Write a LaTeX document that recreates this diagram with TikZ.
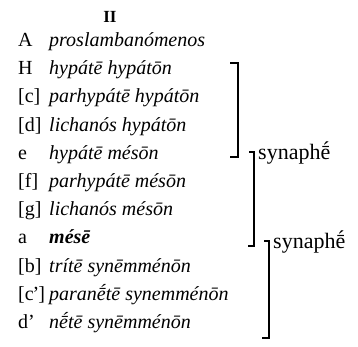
\documentclass[tikz,border=0pt]{standalone}
\usepackage{fontspec}
\setmainfont{Liberation Serif}
\begin{document}
\begin{tikzpicture}[x=1pt,y=-1pt,
  lab/.style={anchor=base west, inner sep=0pt, font=\fontsize{20}{20}\selectfont},
  nm/.style={anchor=base west, inner sep=0pt, font=\fontsize{20}{20}\selectfont\itshape},
  brk/.style={line width=2.4pt, line cap=butt, line join=miter},
  syn/.style={anchor=base west, inner sep=0pt, font=\fontsize{22}{22}\selectfont}]
\useasboundingbox (0,0) rectangle (358,346);
\node[anchor=base, inner sep=0pt, font=\fontsize{17}{17}\selectfont\bfseries] (hd) at (110,22) {II};
\node[lab] (l1) at (18,46.5) {A};      \node[nm] (n1) at (49,46.5) {proslambanómenos};
\node[lab] (l2) at (18,74.7) {H};      \node[nm] (n2) at (49,74.7) {hypátē hypátōn};
\node[lab] (l3) at (18,102.9) {[c]};   \node[nm] (n3) at (49,102.9) {parhypátē hypátōn};
\node[lab] (l4) at (18,131.1) {[d]};   \node[nm] (n4) at (49,131.1) {lichanós hypátōn};
\node[lab] (l5) at (18,159.3) {e};     \node[nm] (n5) at (49,159.3) {hypátē mésōn};
\node[lab] (l6) at (18,187.5) {[f]};   \node[nm] (n6) at (49,187.5) {parhypátē mésōn};
\node[lab] (l7) at (18,215.7) {[g]};   \node[nm] (n7) at (49,215.7) {lichanós mésōn};
\node[lab] (l8) at (18,243.9) {a};     \node[nm] (n8) at (49,243.9) {\bfseries mésē};
\node[lab] (l9) at (18,272.1) {[b]};   \node[nm] (n9) at (49,272.1) {trítē synēmménōn};
\node[lab] (l10) at (18,300.3) {[c\kern-1pt’\kern-1pt]}; \node[nm] (n10) at (49,300.3) {paranḗtē synemménōn};
\node[lab] (l11) at (18,328.5) {d’};   \node[nm] (n11) at (49,328.5) {nḗtē synēmménōn};
% brackets
\coordinate (b1t) at (238,63);  \coordinate (b1b) at (238,157);
\coordinate (b2t) at (254,152); \coordinate (b2b) at (254,246);
\coordinate (b3t) at (269,241); \coordinate (b3b) at (269,338);
\draw[brk] ([xshift=-8pt]b1t) -- (b1t) -- (b1b) -- ([xshift=-8pt]b1b);
\draw[brk] ([xshift=-5pt]b2t) -- (b2t) -- (b2b) -- ([xshift=-6pt]b2b);
\draw[brk] ([xshift=-5pt]b3t) -- (b3t) -- (b3b) -- ([xshift=-7pt]b3b);
\node[syn] (s1) at (258,159) {synaphḗ};
\node[syn] (s2) at (273,248) {synaphḗ};
\end{tikzpicture}
\end{document}
